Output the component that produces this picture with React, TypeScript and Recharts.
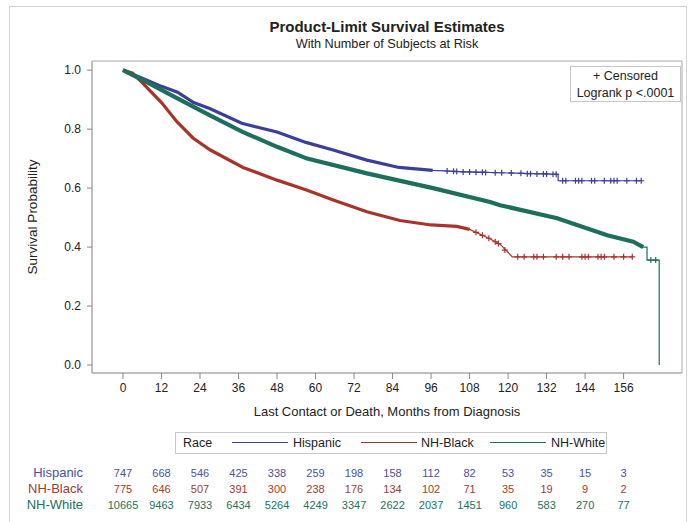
import React from 'react';
import { ComposedChart, Line, Scatter, XAxis, YAxis, ReferenceArea } from 'recharts';

// axis ticks
const monthTicks = [0, 12, 24, 36, 48, 60, 72, 84, 96, 108, 120, 132, 144, 156];
const probTicks = [0, 0.2, 0.4, 0.6, 0.8, 1.0];

// number at risk, one value per month tick
const hispanicRisk = [747, 668, 546, 425, 338, 259, 198, 158, 112, 82, 53, 35, 15, 3];
const blackRisk = [775, 646, 507, 391, 300, 238, 176, 134, 102, 71, 35, 19, 9, 2];
const whiteRisk = [10665, 9463, 7933, 6434, 5264, 4249, 3347, 2622, 2037, 1451, 960, 583, 270, 77];

// survival curves (t = months, s = survival)
const hispanicCurve = [
  { t: 0, s: 1.0 }, { t: 6, s: 0.973 }, { t: 12, s: 0.945 }, { t: 17, s: 0.925 },
  { t: 22, s: 0.89 }, { t: 27, s: 0.87 }, { t: 37, s: 0.82 }, { t: 48, s: 0.79 },
  { t: 57, s: 0.755 }, { t: 65.5, s: 0.729 }, { t: 76, s: 0.695 }, { t: 86, s: 0.67 },
  { t: 96.5, s: 0.66 }, { t: 107, s: 0.655 }, { t: 117.5, s: 0.652 }, { t: 135.6, s: 0.647 },
  { t: 135.6, s: 0.625 }, { t: 161.5, s: 0.625 },
];
const blackCurve = [
  { t: 0, s: 1.0 }, { t: 3, s: 0.99 }, { t: 6.2, s: 0.955 }, { t: 12, s: 0.89 },
  { t: 16.8, s: 0.825 }, { t: 21.8, s: 0.77 }, { t: 27.1, s: 0.73 }, { t: 37.4, s: 0.67 },
  { t: 48, s: 0.627 }, { t: 57.4, s: 0.593 }, { t: 65.5, s: 0.56 }, { t: 76, s: 0.52 },
  { t: 86.3, s: 0.49 }, { t: 96, s: 0.475 }, { t: 104, s: 0.47 }, { t: 108, s: 0.46 },
  { t: 114, s: 0.43 }, { t: 117.5, s: 0.41 }, { t: 121.3, s: 0.367 }, { t: 158.7, s: 0.367 },
];
const whiteCurve = [
  { t: 0, s: 1.0 }, { t: 6.2, s: 0.966 }, { t: 16.8, s: 0.905 }, { t: 27.1, s: 0.847 },
  { t: 37.4, s: 0.79 }, { t: 48, s: 0.74 }, { t: 57.4, s: 0.7 }, { t: 76, s: 0.65 },
  { t: 96.6, s: 0.6 }, { t: 114.4, s: 0.553 }, { t: 117.5, s: 0.542 }, { t: 135.3, s: 0.498 },
  { t: 150.9, s: 0.44 }, { t: 159, s: 0.418 }, { t: 162.1, s: 0.4 }, { t: 163.3, s: 0.4 },
  { t: 163.3, s: 0.356 }, { t: 167.1, s: 0.356 }, { t: 167.1, s: 0.0 },
];

// censored marks where they are still readable one by one
const hispanicCensored = [
  { t: 101, s: 0.658 }, { t: 103, s: 0.657 }, { t: 104, s: 0.656 }, { t: 106, s: 0.655 },
  { t: 108, s: 0.655 }, { t: 110, s: 0.654 }, { t: 112, s: 0.654 }, { t: 113, s: 0.653 },
  { t: 116, s: 0.652 }, { t: 118, s: 0.652 }, { t: 121, s: 0.651 }, { t: 124, s: 0.65 },
  { t: 126, s: 0.649 }, { t: 127, s: 0.649 }, { t: 129, s: 0.648 }, { t: 131, s: 0.648 },
  { t: 132, s: 0.648 }, { t: 134, s: 0.647 }, { t: 135, s: 0.647 },
  { t: 137, s: 0.625 }, { t: 138, s: 0.625 }, { t: 141, s: 0.625 }, { t: 142, s: 0.625 },
  { t: 143, s: 0.625 }, { t: 146, s: 0.625 }, { t: 147, s: 0.625 }, { t: 150, s: 0.625 },
  { t: 152, s: 0.625 }, { t: 153, s: 0.625 }, { t: 154, s: 0.625 }, { t: 157, s: 0.625 },
  { t: 160, s: 0.625 }, { t: 161.5, s: 0.625 },
];
const blackCensored = [
  { t: 110, s: 0.45 }, { t: 112, s: 0.44 }, { t: 114, s: 0.43 }, { t: 116, s: 0.418 },
  { t: 117, s: 0.412 }, { t: 119, s: 0.39 },
  { t: 123, s: 0.367 }, { t: 125, s: 0.367 }, { t: 128, s: 0.367 }, { t: 129, s: 0.367 },
  { t: 131, s: 0.367 }, { t: 135, s: 0.367 }, { t: 137, s: 0.367 }, { t: 139, s: 0.367 },
  { t: 143, s: 0.367 }, { t: 144, s: 0.367 }, { t: 145, s: 0.367 }, { t: 148, s: 0.367 },
  { t: 149, s: 0.367 }, { t: 150, s: 0.367 }, { t: 153, s: 0.367 }, { t: 156, s: 0.367 },
  { t: 158.7, s: 0.367 },
];
const whiteCensored = [{ t: 164.5, s: 0.356 }, { t: 166, s: 0.356 }];

const BLUE = '#3b3f9c';
const RED = '#a8342c';
const GREEN = '#1e6f5c';
const FRAME = '#a9a9a9';

const xDomain = [-9.66, 174.2];
const yDomain = [-0.027, 1.031];

const riskRows = [
  { name: 'Hispanic', values: hispanicRisk, color: '#4a4fa6' },
  { name: 'NH-Black', values: blackRisk, color: '#a33a31' },
  { name: 'NH-White', values: whiteRisk, color: '#22705f' },
];

const plus = (color: string) => (props: any) => {
  const { cx, cy } = props;
  return <path d={`M${cx - 3},${cy}h6M${cx},${cy - 3}v6`} stroke={color} strokeWidth={1.2} fill="none" />;
};

// month label plus the at-risk counts underneath, placed by the axis scale
const MonthTick = (props: any) => {
  const { x, y, payload, index } = props;
  return (
    <g>
      <text x={x} y={y} dy="0.71em" textAnchor="middle" fontSize={12} fill="#222">{payload.value}</text>
      {riskRows.map((r, k) => (
        <text key={r.name} x={x} y={y + 90 + k * 16} dominantBaseline="central" textAnchor="middle" fontSize={11} fill={r.color}>
          {r.values[index]}
        </text>
      ))}
    </g>
  );
};

// legend pieces: [left, kind, content]
const legendItems = [
  { left: 183, text: 'Race' },
  { left: 232, line: BLUE },
  { left: 293, text: 'Hispanic' },
  { left: 361, line: RED },
  { left: 421, text: 'NH-Black' },
  { left: 490, line: GREEN },
  { left: 551, text: 'NH-White' },
];

export default function App() {
  const dense = (data: { t: number; s: number }[], until: number) => data.filter((d) => d.t <= until);
  return (
    <div style={{ position: 'absolute', left: 0, top: 0, width: 688, height: 522, overflow: 'hidden', background: '#fff', fontFamily: '"Liberation Sans", Arial, sans-serif', color: '#222' }}>
      <div style={{ position: 'absolute', left: 9, top: 6, width: 676, height: 530, border: '1px solid #d4d4d4' }} />
      <div style={{ position: 'absolute', left: 92, width: 590, top: 18, textAlign: 'center', fontSize: 15, fontWeight: 'bold' }}>
        Product-Limit Survival Estimates
      </div>
      <div style={{ position: 'absolute', left: 92, width: 590, top: 37, textAlign: 'center', fontSize: 12.7 }}>
        With Number of Subjects at Risk
      </div>
      <ComposedChart width={688} height={522} margin={{ top: 61, right: 6, bottom: 57, left: 0 }} style={{ position: 'absolute', left: 0, top: 0 }}>
        <XAxis
          xAxisId="main"
          dataKey="t"
          type="number"
          domain={xDomain}
          allowDataOverflow
          ticks={monthTicks}
          interval={0}
          height={92}
          axisLine={{ stroke: FRAME }}
          tickLine={{ stroke: '#888' }}
          tickSize={6}
          tickMargin={4}
          tick={<MonthTick />}
        />
        <YAxis
          yAxisId="main"
          type="number"
          domain={yDomain}
          allowDataOverflow
          ticks={probTicks}
          interval={0}
          width={92}
          axisLine={{ stroke: FRAME }}
          tickLine={{ stroke: '#888' }}
          tickSize={5}
          tickMargin={6}
          tick={{ fontSize: 12, fill: '#222' }}
          tickFormatter={(v: number) => v.toFixed(1)}
          label={{ value: 'Survival Probability', angle: -90, position: 'insideLeft', offset: 32, fontSize: 13.5, fill: '#222', style: { textAnchor: 'middle' } }}
        />
        <ReferenceArea
          xAxisId="main"
          yAxisId="main"
          x1={xDomain[0]}
          x2={xDomain[1]}
          y1={yDomain[0]}
          y2={yDomain[1]}
          fill="none"
          stroke={FRAME}
          ifOverflow="visible"
        />

        <Line xAxisId="main" yAxisId="main" data={dense(hispanicCurve, 100)} dataKey="s" type="linear" stroke={BLUE} strokeWidth={3.2} dot={false} isAnimationActive={false} />
        <Line xAxisId="main" yAxisId="main" data={hispanicCurve} dataKey="s" type="linear" stroke={BLUE} strokeWidth={1.2} dot={false} isAnimationActive={false} />
        <Scatter xAxisId="main" yAxisId="main" data={hispanicCensored} dataKey="s" shape={plus(BLUE)} isAnimationActive={false} />

        <Line xAxisId="main" yAxisId="main" data={dense(blackCurve, 110)} dataKey="s" type="linear" stroke={RED} strokeWidth={3.2} dot={false} isAnimationActive={false} />
        <Line xAxisId="main" yAxisId="main" data={blackCurve} dataKey="s" type="linear" stroke={RED} strokeWidth={1.2} dot={false} isAnimationActive={false} />
        <Scatter xAxisId="main" yAxisId="main" data={blackCensored} dataKey="s" shape={plus(RED)} isAnimationActive={false} />

        <Line xAxisId="main" yAxisId="main" data={dense(whiteCurve, 163)} dataKey="s" type="linear" stroke={GREEN} strokeWidth={4.2} dot={false} isAnimationActive={false} />
        <Line xAxisId="main" yAxisId="main" data={whiteCurve} dataKey="s" type="linear" stroke={GREEN} strokeWidth={1.2} dot={false} isAnimationActive={false} />
        <Scatter xAxisId="main" yAxisId="main" data={whiteCensored} dataKey="s" shape={plus(GREEN)} isAnimationActive={false} />
      </ComposedChart>

      <div style={{ position: 'absolute', left: 92, width: 590, top: 404, textAlign: 'center', fontSize: 13 }}>
        Last Contact or Death, Months from Diagnosis
      </div>

      {riskRows.map((r, k) => (
        <div key={r.name} style={{ position: 'absolute', right: 688 - 83, top: 465 + k * 16, lineHeight: '16px', fontSize: 13, color: r.color, whiteSpace: 'nowrap' }}>
          {r.name}
        </div>
      ))}

      <div style={{ position: 'absolute', left: 570, top: 66, width: 111, height: 36, border: '1px solid #c8c8c8', background: '#fff', fontSize: 12.5, lineHeight: '17px', textAlign: 'center', boxSizing: 'border-box', paddingTop: 1 }}>
        <div>+ Censored</div>
        <div>Logrank p &lt;.0001</div>
      </div>

      <div style={{ position: 'absolute', left: 175, top: 432, width: 432, height: 22, border: '1px solid #c8c8c8', boxSizing: 'border-box' }} />
      {legendItems.map((it, i) =>
        it.line ? (
          <div key={i} style={{ position: 'absolute', left: it.left, top: 442, width: 56, height: 1.4, background: it.line }} />
        ) : (
          <div key={i} style={{ position: 'absolute', left: it.left, top: 435, fontSize: 12.5, lineHeight: '16px', whiteSpace: 'nowrap' }}>
            {it.text}
          </div>
        )
      )}
    </div>
  );
}
